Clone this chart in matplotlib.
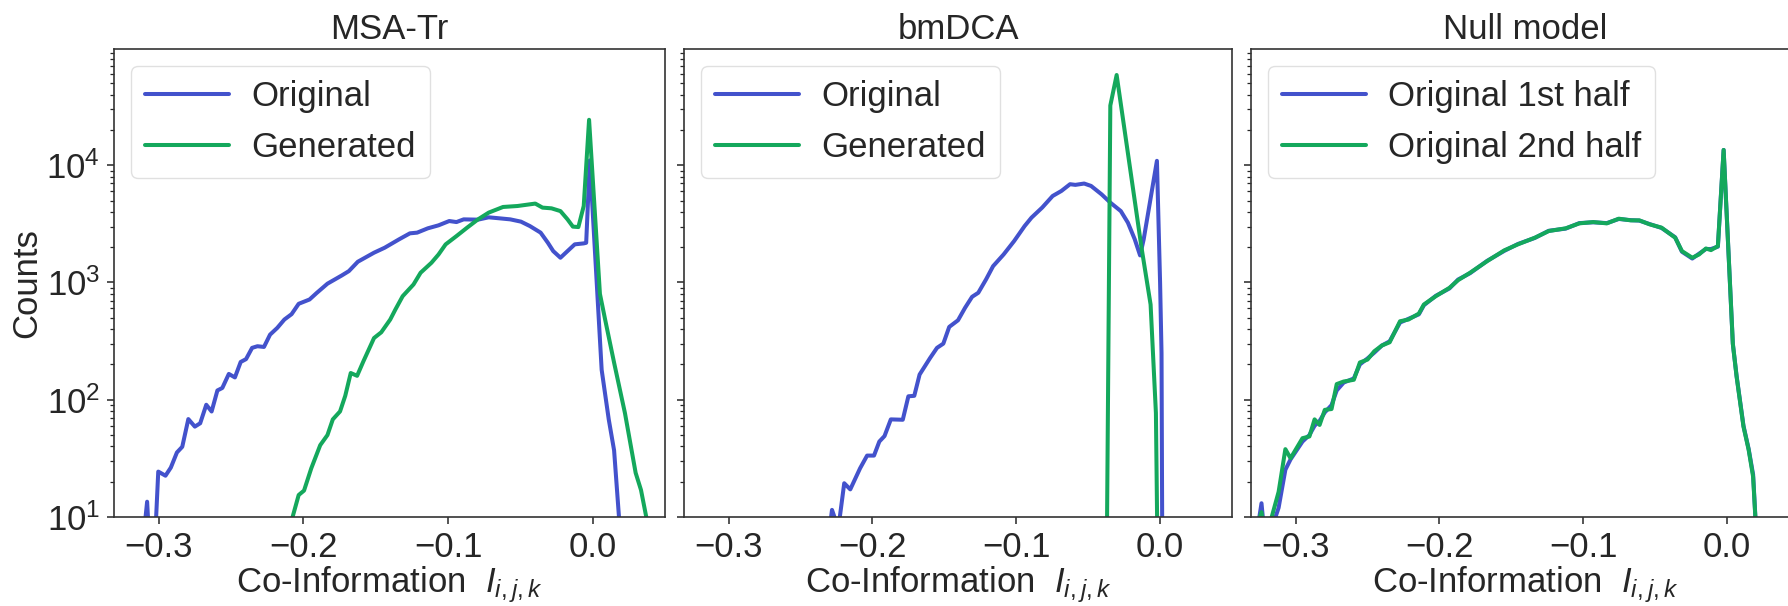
import matplotlib
matplotlib.use("Agg")
import matplotlib.pyplot as plt
import seaborn as sns

# MSA-Tr panel
msa_orig_x = [-0.3110, -0.3081, -0.3045, -0.3004, -0.2954, -0.2917, -0.2875, -0.2838, -0.2796, -0.2751,
              -0.2714, -0.2672, -0.2635, -0.2595, -0.2561, -0.2516, -0.2474, -0.2434, -0.2397, -0.2355,
              -0.2318, -0.2273, -0.2231, -0.2181, -0.2132, -0.2082, -0.2033, -0.1958, -0.1908, -0.1834,
              -0.1735, -0.1686, -0.1624, -0.1512, -0.1438, -0.1339, -0.1264, -0.1214, -0.1140, -0.1066,
              -0.0992, -0.0942, -0.0892, -0.0793, -0.0719, -0.0645, -0.0570, -0.0496, -0.0434, -0.0360,
              -0.0310, -0.0273, -0.0223, -0.0174, -0.0124, -0.0062, -0.0045, -0.0020, 0.0062, 0.0111,
              0.0148, 0.0195]
msa_orig_y = [6, 13.5, 2, 24.4, 22.5, 26.4, 35.5, 39.7, 68.4, 59,
              63, 90.6, 79.4, 120, 126, 166, 155, 210, 222, 277,
              286, 282, 359, 410, 483, 537, 658, 716, 815, 977,
              1148, 1250, 1503, 1795, 1980, 2333, 2625, 2661, 2897, 3072,
              3343, 3276, 3454, 3434, 3596, 3526, 3454, 3303, 3027, 2661,
              2183, 1853, 1626, 1853, 2115, 2155, 2180, 11000, 180, 68,
              37, 6]
msa_gen_x = [-0.2110, -0.2033, -0.1996, -0.1946, -0.1884, -0.1834, -0.1797, -0.1747, -0.1711, -0.1673,
             -0.1629, -0.1586, -0.1512, -0.1462, -0.1400, -0.1364, -0.1314, -0.1239, -0.1190, -0.1115,
             -0.1066, -0.1017, -0.0942, -0.0868, -0.0793, -0.0719, -0.0620, -0.0520, -0.0397, -0.0347,
             -0.0285, -0.0223, -0.0174, -0.0137, -0.0099, -0.0062, -0.0025, 0.0050, 0.0086, 0.0148,
             0.0223, 0.0297, 0.0334, 0.0395]
msa_gen_y = [7, 15.4, 16.8, 26, 41, 50, 68, 79.5, 108, 169,
             160, 212, 336, 376, 483, 589, 764, 962, 1211, 1473,
             1733, 2113, 2487, 2937, 3454, 3944, 4406, 4490, 4709, 4350,
             4290, 4063, 3454, 2995, 2970, 4490, 24400, 800, 483, 207,
             77, 23.8, 17, 7]

# bmDCA panel
bm_orig_x = [-0.2310, -0.2281, -0.2237, -0.2196, -0.2154, -0.2086, -0.2037, -0.1989, -0.1952, -0.1916,
             -0.1872, -0.1789, -0.1750, -0.1709, -0.1672, -0.1599, -0.1551, -0.1507, -0.1466, -0.1405,
             -0.1356, -0.1307, -0.1264, -0.1210, -0.1161, -0.1088, -0.1015, -0.0942, -0.0894, -0.0820,
             -0.0747, -0.0686, -0.0626, -0.0589, -0.0528, -0.0480, -0.0407, -0.0346, -0.0273, -0.0224,
             -0.0176, -0.0139, -0.0114, -0.0022, 0.0000, 0.0010, 0.0016]
bm_orig_y = [6, 11.5, 8, 19.4, 17.2, 26, 33.4, 33.4, 44, 49,
             68, 67.5, 107, 108, 164, 227, 277, 301, 418, 476,
             608, 755, 817, 1062, 1378, 1733, 2254, 3027, 3573, 4350,
             5466, 6036, 6890, 6800, 6980, 6660, 5650, 4800, 4063, 3240,
             2333, 1701, 2333, 10900, 1000, 250, 3]
bm_gen_x = [-0.0375, -0.0346, -0.0302, -0.0130, -0.0066, -0.0029, -0.0016]
bm_gen_y = [1, 32300, 58800, 2014, 649, 77, 3]

# Null model panel
null_a_x = [-0.3290, -0.3237, -0.3205, -0.3166, -0.3118, -0.3071, -0.3035, -0.2952, -0.2904, -0.2868,
            -0.2833, -0.2797, -0.2750, -0.2714, -0.2666, -0.2595, -0.2553, -0.2500, -0.2453, -0.2400,
            -0.2346, -0.2274, -0.2215, -0.2143, -0.2108, -0.2025, -0.1930, -0.1870, -0.1787, -0.1668,
            -0.1549, -0.1454, -0.1336, -0.1240, -0.1122, -0.1027, -0.0931, -0.0836, -0.0753, -0.0670,
            -0.0610, -0.0539, -0.0456, -0.0361, -0.0314, -0.0242, -0.0195, -0.0147, -0.0112, -0.0064,
            -0.0024, 0.0040, 0.0066, 0.0114, 0.0150, 0.0181, 0.0210]
null_a_y = [5, 13.1, 5, 8, 12, 25.3, 31, 44, 50, 60,
            66, 78, 90, 120, 140, 152, 200, 225, 252, 290,
            315, 455, 490, 535, 640, 770, 890, 1060, 1200, 1530,
            1860, 2130, 2400, 2760, 2880, 3210, 3260, 3210, 3480, 3400,
            3370, 3150, 2920, 2430, 1830, 1600, 1760, 1930, 1930, 2020,
            13500, 300, 160, 60, 38, 23, 5]
null_b_x = [-0.3290, -0.3237, -0.3200, -0.3166, -0.3118, -0.3071, -0.3035, -0.2952, -0.2904, -0.2868,
            -0.2833, -0.2797, -0.2750, -0.2714, -0.2666, -0.2595, -0.2553, -0.2500, -0.2453, -0.2400,
            -0.2346, -0.2274, -0.2215, -0.2143, -0.2108, -0.2025, -0.1930, -0.1870, -0.1787, -0.1668,
            -0.1549, -0.1454, -0.1336, -0.1240, -0.1122, -0.1027, -0.0931, -0.0836, -0.0753, -0.0670,
            -0.0610, -0.0539, -0.0456, -0.0361, -0.0314, -0.0242, -0.0195, -0.0147, -0.0112, -0.0064,
            -0.0024, 0.0040, 0.0066, 0.0114, 0.0150, 0.0181, 0.0210]
null_b_y = [7, 11, 5, 10, 16.4, 37.9, 31.7, 47, 48.6, 68,
            61, 82, 83.3, 136, 143, 148, 208, 220, 259, 290,
            309, 467, 483, 543, 649, 764, 901, 1047, 1211, 1521,
            1880, 2115, 2411, 2746, 2897, 3193, 3276, 3193, 3500, 3388,
            3388, 3134, 2937, 2411, 1853, 1626, 1733, 1950, 1888, 2043,
            13500, 300, 158, 59, 37.4, 22, 5]

titles = ["MSA-Tr", "bmDCA", "Null model"]
labels_gen = ["Original", "Generated"]
labels_null = ["Original 1st half", "Original 2nd half"]

BLUE = "#4352cc"
GREEN = "#14a85c"

sns.set_style("ticks")
plt.rcParams["font.family"] = ["Liberation Sans", "DejaVu Sans"]
plt.rcParams["mathtext.fontset"] = "custom"
plt.rcParams["mathtext.rm"] = "Liberation Sans"
plt.rcParams["mathtext.it"] = "Liberation Sans:italic"
plt.rcParams["mathtext.bf"] = "Liberation Sans:bold"

FS = 25
fig = plt.figure(figsize=(17.88, 6.06), dpi=100)
W, H = 1788, 606
lefts = [114, 684, 1251]
widths = [551, 548, 548]
axes = [fig.add_axes([l / W, 89 / H, w / W, 468 / H]) for l, w in zip(lefts, widths)]

series = [
    (msa_orig_x, msa_orig_y, msa_gen_x, msa_gen_y, labels_gen),
    (bm_orig_x, bm_orig_y, bm_gen_x, bm_gen_y, labels_gen),
    (null_a_x, null_a_y, null_b_x, null_b_y, labels_null),
]

for i, (ax, (xa, ya, xb, yb, labs)) in enumerate(zip(axes, series)):
    ax.plot(xa, ya, color=BLUE, lw=2.9, label=labs[0])
    ax.plot(xb, yb, color=GREEN, lw=2.9, label=labs[1])
    ax.set_yscale("log")
    ax.set_ylim(10, 9.8e4)
    ax.set_xlim(-0.331, 0.05)
    ax.set_xticks([-0.3, -0.2, -0.1, 0.0])
    ax.set_xticklabels(["\u22120.3", "\u22120.2", "\u22120.1", "0.0"])
    ax.tick_params(axis="both", which="major", labelsize=FS, length=5, width=1.1,
                   color=".15", pad=5)
    ax.tick_params(axis="y", which="minor", length=3, width=0.9, color=".15")
    for s in ax.spines.values():
        s.set_linewidth(1.2)
        s.set_color(".2")
    ax.set_title(titles[i], fontsize=FS, pad=7)
    ax.set_xlabel("Co-Information  $I_{i,j,k}$", fontsize=FS, labelpad=0)
    if i > 0:
        ax.tick_params(axis="y", which="both", labelleft=False)
    leg = ax.legend(loc="upper left", fontsize=FS, handlelength=2.4,
                    labelspacing=0.52, borderpad=0.4, handletextpad=0.65,
                    borderaxespad=0.5, framealpha=0.8)
    leg.get_frame().set_edgecolor("0.85")

axes[0].set_ylabel("Counts", fontsize=FS, labelpad=2)

fig.savefig("out.png", dpi=100)
